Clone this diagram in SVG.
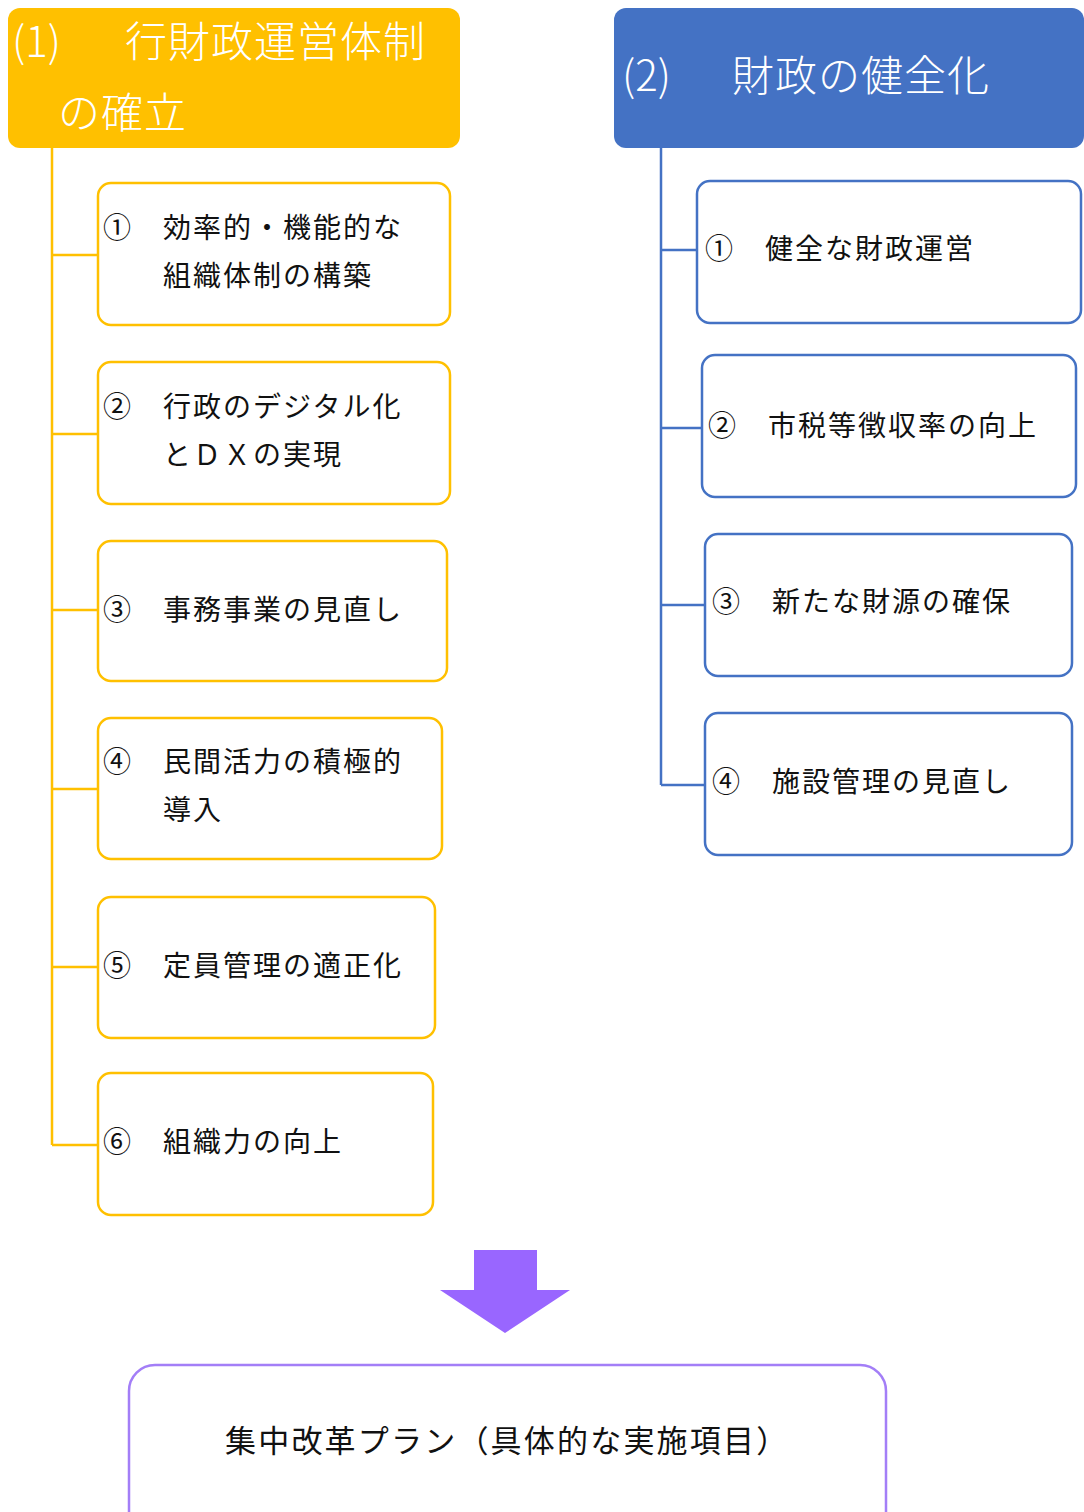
<svg xmlns="http://www.w3.org/2000/svg" width="1084" height="1512" viewBox="0 0 1084 1512">
<style>
.t{font-family:"Noto Sans CJK JP","Noto Sans CJK SC",sans-serif;font-size:28px;letter-spacing:2px;fill:#111}
.p{font-size:31px;letter-spacing:2.2px}
.h{font-family:"Noto Sans CJK JP","Noto Sans CJK SC",sans-serif;font-size:42px;fill:#fff;font-weight:300}
.ob{fill:#fff;stroke:#FFC000;stroke-width:2.5}
.bb{fill:#fff;stroke:#4472C4;stroke-width:2.5}
.oc{stroke:#FFC000;stroke-width:2.5;fill:none}
.bc{stroke:#4472C4;stroke-width:2.5;fill:none}
</style>
<rect width="1084" height="1512" fill="#fff"/>
<g id="connectors">
<path class="oc" d="M52 148V1145M52 255H98M52 434H98M52 610H98M52 789H98M52 967H98M52 1145H98"/>
<path class="bc" d="M661 148V785M661 250H697M661 428H702M661 605H705M661 785H705"/>
</g>
<g id="header1">
<rect x="8" y="8" width="452" height="140" rx="12" fill="#FFC000"/>
<text class="h"><tspan x="12" y="57">(1)</tspan><tspan x="125" y="57" letter-spacing="1">行財政運営体制</tspan><tspan x="58" y="128" letter-spacing="1">の確立</tspan></text>
</g>
<g id="header2">
<rect x="614" y="8" width="470" height="140" rx="12" fill="#4472C4"/>
<text class="h"><tspan x="622" y="91">(2)</tspan><tspan x="732" y="91" letter-spacing="1">財政の健全化</tspan></text>
</g>
<g id="l1"><rect class="ob" x="98" y="183" width="352" height="142" rx="13"/>
<text class="t"><tspan x="103" y="238">①　効率的・機能的な</tspan><tspan x="163" y="286">組織体制の構築</tspan></text></g>
<g id="l2"><rect class="ob" x="98" y="362" width="352" height="142" rx="13"/>
<text class="t"><tspan x="103" y="417">②　行政のデジタル化</tspan><tspan x="163" y="465">とＤＸの実現</tspan></text></g>
<g id="l3"><rect class="ob" x="98" y="541" width="349" height="140" rx="13"/>
<text class="t" x="103" y="620">③　事務事業の見直し</text></g>
<g id="l4"><rect class="ob" x="98" y="718" width="344" height="141" rx="13"/>
<text class="t"><tspan x="103" y="772">④　民間活力の積極的</tspan><tspan x="163" y="820">導入</tspan></text></g>
<g id="l5"><rect class="ob" x="98" y="897" width="337" height="141" rx="13"/>
<text class="t" x="103" y="976">⑤　定員管理の適正化</text></g>
<g id="l6"><rect class="ob" x="98" y="1073" width="335" height="142" rx="13"/>
<text class="t" x="103" y="1152">⑥　組織力の向上</text></g>
<g id="r1"><rect class="bb" x="697" y="181" width="384" height="142" rx="13"/>
<text class="t" x="705" y="259">①　健全な財政運営</text></g>
<g id="r2"><rect class="bb" x="702" y="355" width="374" height="142" rx="13"/>
<text class="t" x="708" y="436">②　市税等徴収率の向上</text></g>
<g id="r3"><rect class="bb" x="705" y="534" width="367" height="142" rx="13"/>
<text class="t" x="712" y="612">③　新たな財源の確保</text></g>
<g id="r4"><rect class="bb" x="705" y="713" width="367" height="142" rx="13"/>
<text class="t" x="712" y="792">④　施設管理の見直し</text></g>
<g id="arrow">
<polygon points="474,1250 537,1250 537,1290 570,1290 505,1333 440,1290 474,1290" fill="#9966FF"/>
</g>
<g id="plan">
<rect x="129" y="1365" width="757" height="175" rx="26" fill="#fff" stroke="#A37EF7" stroke-width="2.5"/>
<text class="t p" x="225" y="1452">集中改革プラン（具体的な実施項目）</text>
</g>
</svg>
